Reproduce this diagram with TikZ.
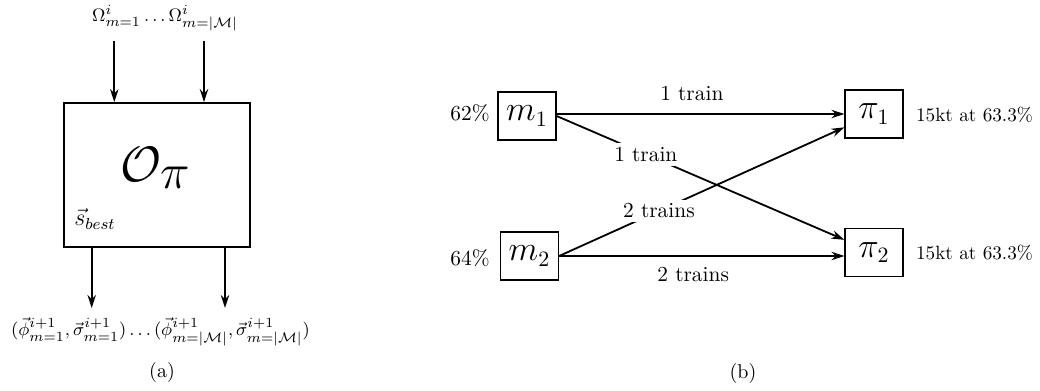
\documentclass[tikz,border=0pt]{standalone}
\usetikzlibrary{arrows.meta}
\begin{document}
\begin{tikzpicture}[x=0.5pt,y=-0.5pt,
  arr/.style={-{Stealth[length=6.5pt,width=4.2pt]}, line width=0.9pt},
  bigbox/.style={draw, line width=0.9pt, minimum width=93pt, minimum height=72pt, inner sep=0pt},
  smallbox/.style={draw, line width=0.6pt, minimum width=29pt, minimum height=24pt, inner sep=0pt, font=\fontsize{16}{19}\selectfont},
  lt/.style={inner sep=0pt, font=\fontsize{9.5}{11}\selectfont},
  rt/.style={inner sep=0pt, font=\fontsize{10.7}{13}\selectfont},
  st/.style={inner sep=0pt, font=\fontsize{9.6}{11}\selectfont},
  lab/.style={fill=white, inner sep=2pt, font=\fontsize{10.7}{13}\selectfont},
  captext/.style={inner sep=0pt, font=\fontsize{10}{12}\selectfont},
]
\useasboundingbox (0,0) rectangle (1040,391);
% ---------- (a) ----------
\node[bigbox] (op) at (157,175) {};
\node[inner sep=0pt, font=\fontsize{34}{40}\selectfont] (opt) at (156,168) {$\mathcal{O}_\pi$};
\node[inner sep=0pt, font=\fontsize{11.5}{13}\selectfont] (sb) at (95,219) {$\vec{s}_{best}$};
\node[lt] (omega) at (165,18) {$\Omega^i_{m=1}\ldots\Omega^i_{m=|\mathcal{M}|}$};
\coordinate (i1) at (114.3,40.7);
\coordinate (i2) at (204,40.7);
\draw[arr] (i1) -- (i1 |- op.north);
\draw[arr] (i2) -- (i2 |- op.north);
\coordinate (o1) at (91.7,308);
\coordinate (o2) at (225,308);
\draw[arr] (o1 |- op.south) -- (o1);
\draw[arr] (o2 |- op.south) -- (o2);
\node[lt] (phi) at (160.5,332) {$(\vec{\phi}^{i+1}_{m=1},\vec{\sigma}^{i+1}_{m=1})\ldots(\vec{\phi}^{i+1}_{m=|\mathcal{M}|},\vec{\sigma}^{i+1}_{m=|\mathcal{M}|})$};
\node[captext] (capa) at (162,372) {(a)};
% ---------- (b) ----------
\node[smallbox] (m1) at (527,116) {$m_1$};
\node[smallbox] (m2) at (529.5,256) {$m_2$};
\node[smallbox] (p1) at (874,114) {$\pi_1$};
\node[smallbox] (p2) at (874,252.5) {$\pi_2$};
\node[rt, anchor=east] (pc1) at (490,113) {62\%};
\node[rt, anchor=east] (pc2) at (490,258) {64\%};
\node[st] (k1) at (974.5,115) {15kt at 63.3\%};
\node[st] (k2) at (974.5,253) {15kt at 63.3\%};
\draw[arr] (m1.east |- p1.west) -- node[rt, above=6pt, pos=0.47] {1 train} (p1.west);
\draw[arr] (m1.east) -- node[lab, pos=0.31] {1 train} (p2);
\draw[arr] (m2.east) -- node[lab, pos=0.35] {2 trains} (p1);
\draw[arr] (m2.east) -- node[rt, below=5.4pt, pos=0.47] {2 trains} (m2.east -| p2.west);
\node[captext] (capb) at (743,373) {(b)};
\end{tikzpicture}
\end{document}
